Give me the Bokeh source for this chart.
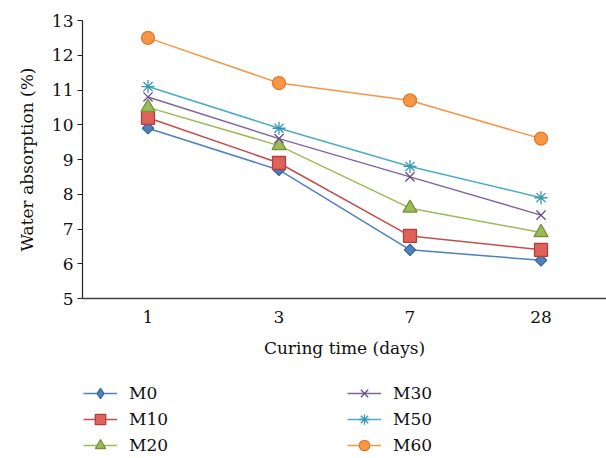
import math
from bokeh.plotting import figure
from bokeh.layouts import column
from bokeh.models import Range1d, FixedTicker, Legend, LegendItem
from bokeh.embed import file_html
from bokeh.resources import INLINE

categories = ["1", "3", "7", "28"]
M0 = [9.9, 8.7, 6.4, 6.1]
M10 = [10.2, 8.9, 6.8, 6.4]
M20 = [10.5, 9.4, 7.6, 6.9]
M30 = [10.8, 9.6, 8.5, 7.4]
M50 = [11.1, 9.9, 8.8, 7.9]
M60 = [12.5, 11.2, 10.7, 9.6]
y_ticks = [5, 6, 7, 8, 9, 10, 11, 12, 13]

FONT = "DejaVu Serif"
FS = "17px"
xs = [i + 0.5 for i in range(len(categories))]

p = figure(width=606, height=370, output_backend="svg", toolbar_location=None,
           x_range=Range1d(0, 4.0), y_range=Range1d(5, 13),
           min_border_left=82, min_border_right=0, min_border_top=20,
           min_border_bottom=72)
p.outline_line_color = None
p.xgrid.grid_line_color = None
p.ygrid.grid_line_color = None
p.background_fill_color = "white"
p.border_fill_color = "white"

# axes
p.xaxis.ticker = FixedTicker(ticks=xs)
p.xaxis.major_label_overrides = {x: c for x, c in zip(xs, categories)}
p.xaxis.major_tick_line_color = None
p.xaxis.minor_tick_line_color = None
p.xaxis.axis_line_color = "#404040"
p.xaxis.axis_line_width = 1.5
p.xaxis.major_label_standoff = 6
p.xaxis.axis_label = "Curing time (days)"
p.xaxis.axis_label_standoff = 12

p.yaxis.ticker = FixedTicker(ticks=y_ticks)
p.yaxis.minor_tick_line_color = None
p.yaxis.major_tick_in = 0
p.yaxis.major_tick_out = 5
p.yaxis.major_tick_line_color = "#222222"
p.yaxis.axis_line_color = "#222222"
p.yaxis.axis_line_width = 1.2
p.yaxis.major_label_standoff = 4
p.yaxis.axis_label = "Water absorption (%)"
p.yaxis.axis_label_standoff = 12

for ax in (p.xaxis, p.yaxis):
    ax.major_label_text_font = FONT
    ax.major_label_text_font_size = FS
    ax.major_label_text_color = "#111111"
    ax.axis_label_text_font = FONT
    ax.axis_label_text_font_size = FS
    ax.axis_label_text_font_style = "normal"
    ax.axis_label_text_color = "#111111"

# name, values, line colour, marker, size, fill, marker line, angle, legend marker
series = [
    ("M0", M0, "#4F81BD", "square", 8, "#4F81BD", "#3A679E", math.pi / 4, "diamond"),
    ("M10", M10, "#C0504D", "square", 13, "#E0605A", "#B0403D", 0, "square"),
    ("M20", M20, "#9BBB59", "triangle", 14, "#9BBB59", "#76923C", 0, "triangle"),
    ("M30", M30, "#8064A2", "x", 13, None, "#6A4F8C", 0, "x"),
    ("M50", M50, "#4BACC6", "asterisk", 13, None, "#3A98B0", 0, "asterisk"),
    ("M60", M60, "#F79646", "circle", 13, "#F79646", "#E07C2C", 0, "circle"),
]

# legend figure below the chart (its own data sits outside its visible range)
q = figure(width=606, height=88, output_backend="svg", toolbar_location=None,
           x_range=Range1d(-10, -9), y_range=Range1d(-10, -9),
           x_axis_location=None, y_axis_location=None,
           min_border_left=0, min_border_right=0, min_border_top=0,
           min_border_bottom=0)
q.outline_line_color = None
q.xgrid.grid_line_color = None
q.ygrid.grid_line_color = None

items = []
for name, vals, lc, marker, size, fc, mc, ang, lmarker in series:
    p.line(xs, vals, line_color=lc, line_width=1.5)
    p.scatter(xs, vals, marker=marker, size=size, angle=ang,
              fill_color=fc, line_color=mc, line_width=1.3)
    l1 = q.line(xs, vals, line_color=lc, line_width=1.5)
    l2 = q.scatter(xs, vals, marker=lmarker, size=size,
                   fill_color=fc, line_color=mc, line_width=1.3)
    items.append(LegendItem(label=name, renderers=[l1, l2]))

legend = Legend(items=items, location=(1, 0), orientation="vertical",
                nrows=3, margin=0, padding=0, spacing=0,
                glyph_width=34, glyph_height=26, label_height=26,
                label_width=218, label_standoff=12,
                label_text_font=FONT, label_text_font_size=FS,
                label_text_color="#111111",
                border_line_color=None, background_fill_alpha=0)
q.add_layout(legend, "center")

layout = column(p, q, spacing=0)
open("out.html", "w").write(file_html(layout, INLINE))
